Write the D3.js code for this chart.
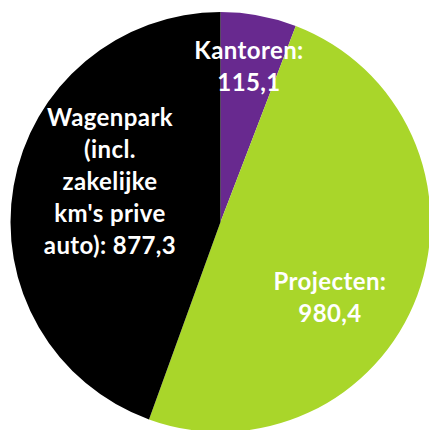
<!DOCTYPE html>
<html>
<head>
<meta charset="utf-8">
<script src="https://cdn.jsdelivr.net/npm/d3@7"></script>
<style>
  body { margin: 0; background: #fff; }
  svg { display: block; }
</style>
</head>
<body>
<div id="chart"></div>
<script>
// data
const categories = ["Kantoren", "Projecten", "Wagenpark (incl. zakelijke km's prive auto)"];
const values = [115.1, 980.4, 877.3];
const labelLines = [
    ["Kantoren:", "115,1"],
    ["Projecten:", "980,4"],
    ["Wagenpark", "(incl.", "zakelijke", "km's prive", "auto): 877,3"]
];
const colors = ["#68298f", "#a9d62a", "#000000"];

const width = 429;
const height = 430;
const cx = 220.5, cy = 222, radius = 210;

const svg = d3.select("#chart")
    .append("svg")
    .attr("width", width)
    .attr("height", height);

const pie = d3.pie().sort(null).value(d => d)(values);
const arc = d3.arc().innerRadius(0).outerRadius(radius);

const g = svg.append("g").attr("transform", `translate(${cx},${cy})`);

g.selectAll("path")
    .data(pie)
    .join("path")
    .attr("d", arc)
    .attr("fill", (d, i) => colors[i]);

// label placement (x center, first baseline), relative to pie centre
const labelAnchor = [[28.5, -163], [109.5, 68], [-110.5, -96]];
const lineHeight = 32;

const labels = g.selectAll("text.lbl")
    .data(labelLines)
    .join("text")
    .attr("class", "lbl")
    .attr("text-anchor", "middle")
    .attr("font-family", "Lato, 'Open Sans', sans-serif")
    .attr("font-weight", "bold")
    .attr("font-size", "24px")
    .attr("letter-spacing", "0.4px")
    .attr("fill", "#fff");

labels.selectAll("tspan")
    .data((d, i) => d.map((t, j) => ({ t, j, i })))
    .join("tspan")
    .attr("x", d => labelAnchor[d.i][0])
    .attr("y", d => labelAnchor[d.i][1] + d.j * lineHeight)
    .text(d => d.t);
</script>
</body>
</html>
